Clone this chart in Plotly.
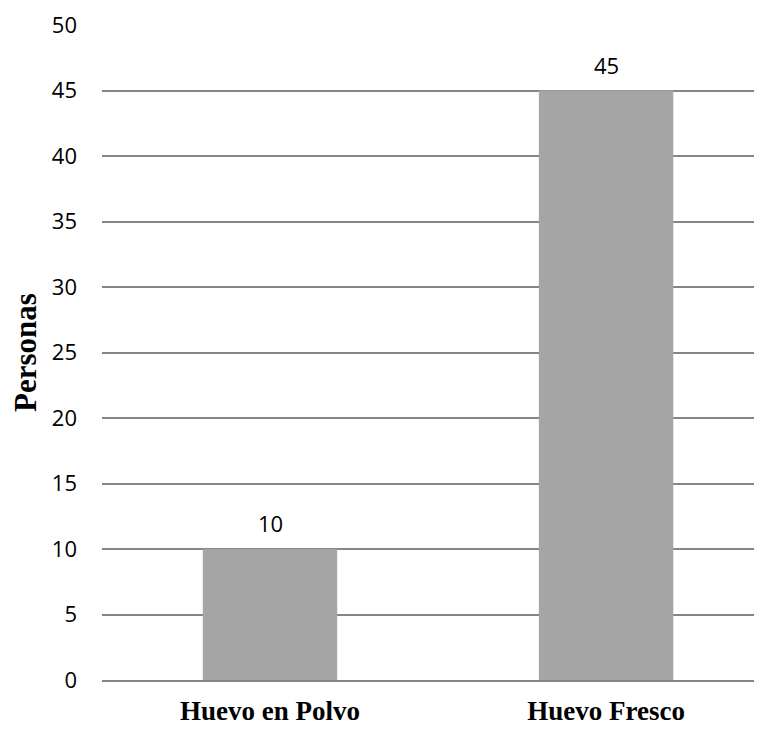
import plotly.graph_objects as go

categories = ["Huevo en Polvo", "Huevo Fresco"]
values = [10, 45]
ytick_vals = [0, 5, 10, 15, 20, 25, 30, 35, 40, 45, 50]

fig = go.Figure(go.Bar(
    x=categories, y=values, width=0.4,
    marker=dict(color="#A5A5A5", line=dict(width=0)),
))

for c, v in zip(categories, values):
    fig.add_annotation(
        x=c, y=v, text=str(v), showarrow=False,
        yanchor="middle", yshift=26,
        font=dict(family="Open Sans", size=22, color="#000000"),
    )

fig.update_layout(
    width=754, height=721,
    margin=dict(l=94, r=0, t=17, b=49),
    paper_bgcolor="white", plot_bgcolor="white",
    showlegend=False,
    xaxis=dict(
        range=[-0.5, 1.464],
        showgrid=False, showline=True, linecolor="#868686", linewidth=1.5,
        tickfont=dict(family="Liberation Serif", size=27, color="#000000", weight="bold"),
        ticks="", ticklabelstandoff=6,
    ),
    yaxis=dict(
        range=[0, 50], tickvals=ytick_vals,
        showgrid=True, gridcolor="#868686", gridwidth=1.5,
        zeroline=False, showline=False,
        tickfont=dict(family="Open Sans", size=22, color="#000000"),
        ticklabelstandoff=24,
        title=dict(text="<b>Personas</b>", standoff=11,
                   font=dict(family="Liberation Serif", size=31, color="#000000")),
    ),
    bargap=0.6,
)

fig.write_html("out.html")
